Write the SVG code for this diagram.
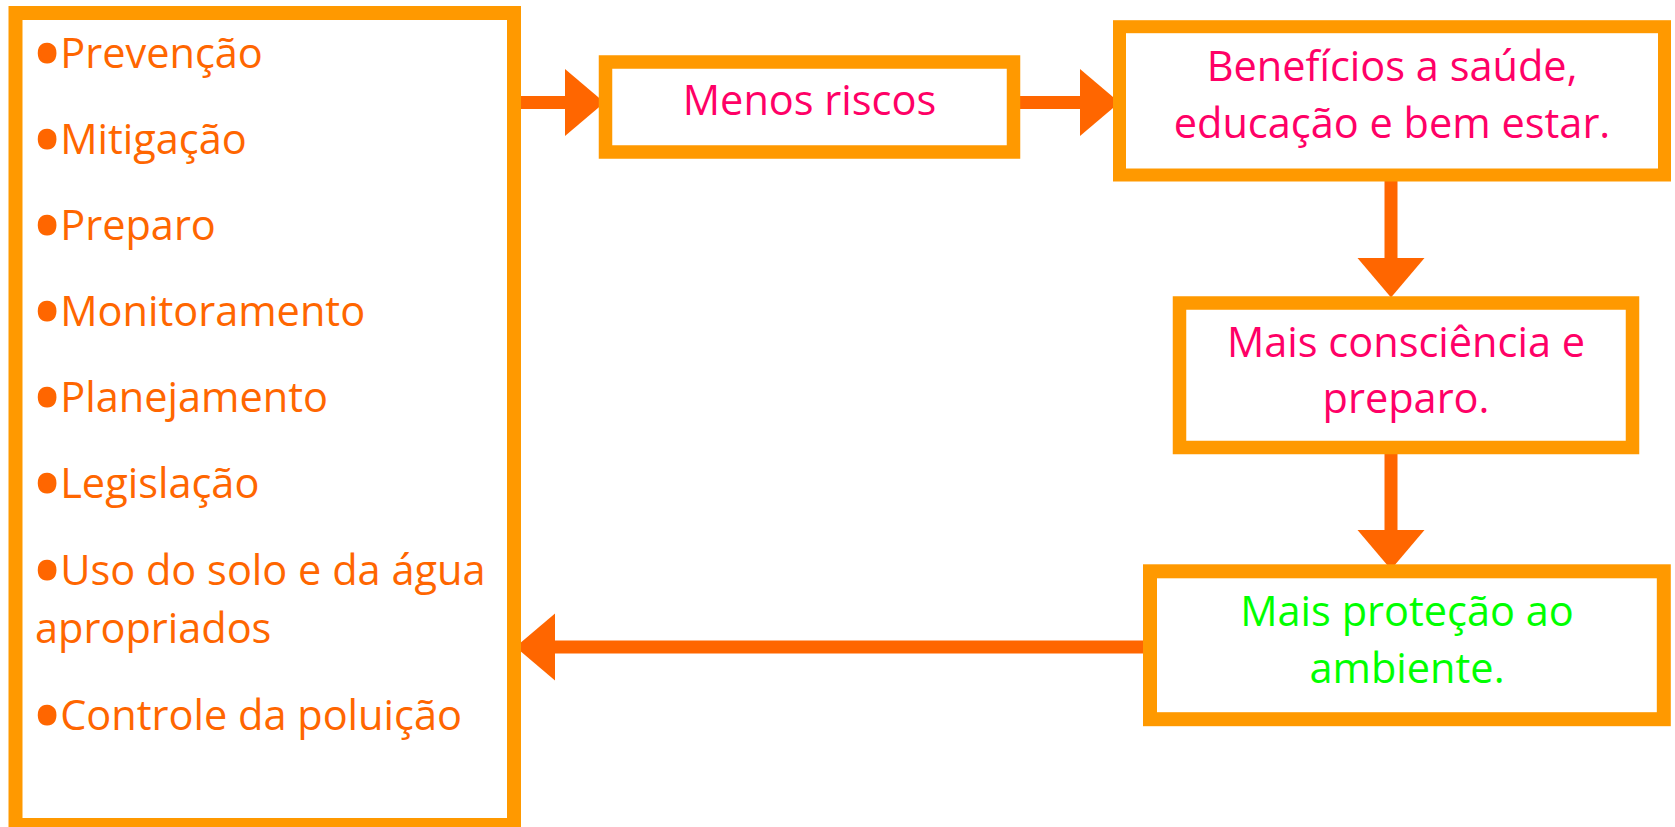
<svg xmlns="http://www.w3.org/2000/svg" width="1675" height="827" viewBox="0 0 1675 827">
<style>
.box{fill:#FFFFFF;stroke:#FF9900;stroke-width:14}
.t{font-family:"Open Sans","Noto Sans",sans-serif;font-size:41.5px}
.list{fill:#FF6600}
.pink{fill:#FF0066;text-anchor:middle}
.green{fill:#00FF00;text-anchor:middle}
.b{font-size:75px;stroke:#FF6600;stroke-width:3}
.conn{stroke:#FF6600;stroke-width:13;fill:none;marker-end:url(#head)}
</style>
<defs>
<marker id="head" markerUnits="userSpaceOnUse" markerWidth="40" markerHeight="67" viewBox="0 -33.5 40 67" refX="1" refY="0" orient="auto" overflow="visible">
<path d="M0,-33.5 L39.5,0 L0,33.5 Z" fill="#FF6600"/>
</marker>
</defs>
<rect width="1675" height="827" fill="#FFFFFF"/>
<g id="connectors">
<line class="conn" x1="514" y1="102.5" x2="566" y2="102.5"/>
<line class="conn" x1="1014" y1="102.5" x2="1081" y2="102.5"/>
<line class="conn" x1="1391" y1="178" x2="1391" y2="259"/>
<line class="conn" x1="1391" y1="449" x2="1391" y2="531"/>
<line class="conn" x1="1149" y1="647" x2="554" y2="647"/>
</g>
<g id="node-acoes">
<rect class="box" x="15.5" y="13" width="498.5" height="812"/>
<text class="t list" x="33" y="68"><tspan class="b" dy="13">•</tspan><tspan dy="-13" dx="-1">Prevenção</tspan></text>
<text class="t list" x="33" y="154"><tspan class="b" dy="13">•</tspan><tspan dy="-13" dx="-1">Mitigação</tspan></text>
<text class="t list" x="33" y="240"><tspan class="b" dy="13">•</tspan><tspan dy="-13" dx="-1">Preparo</tspan></text>
<text class="t list" x="33" y="326"><tspan class="b" dy="13">•</tspan><tspan dy="-13" dx="-1">Monitoramento</tspan></text>
<text class="t list" x="33" y="412"><tspan class="b" dy="13">•</tspan><tspan dy="-13" dx="-1">Planejamento</tspan></text>
<text class="t list" x="33" y="498"><tspan class="b" dy="13">•</tspan><tspan dy="-13" dx="-1">Legislação</tspan></text>
<text class="t list" x="33" y="585"><tspan class="b" dy="13">•</tspan><tspan dy="-13" dx="-1">Uso do solo e da água</tspan></text>
<text class="t list" x="35" y="643">apropriados</text>
<text class="t list" x="33" y="730"><tspan class="b" dy="13">•</tspan><tspan dy="-13" dx="-1">Controle da poluição</tspan></text>
</g>
<g id="node-menos-riscos">
<rect class="box" x="605.5" y="62" width="408" height="90" style="stroke-width:13.5"/>
<text class="t pink" x="809.5" y="115">Menos riscos</text>
</g>
<g id="node-beneficios">
<rect class="box" x="1119.5" y="26.7" width="545" height="148.3" style="stroke-width:13"/>
<text class="t pink" x="1392" y="81">Benefícios a saúde,</text>
<text class="t pink" x="1392" y="137.5">educação e bem estar.</text>
</g>
<g id="node-consciencia">
<rect class="box" x="1179.5" y="303" width="453" height="144.5" style="stroke-width:13.5"/>
<text class="t pink" x="1406" y="356.5">Mais consciência e</text>
<text class="t pink" x="1406" y="413">preparo.</text>
</g>
<g id="node-protecao">
<rect class="box" x="1150" y="571.3" width="513.8" height="147.9"/>
<text class="t green" x="1407" y="626">Mais proteção ao</text>
<text class="t green" x="1407" y="683">ambiente.</text>
</g>
</svg>
